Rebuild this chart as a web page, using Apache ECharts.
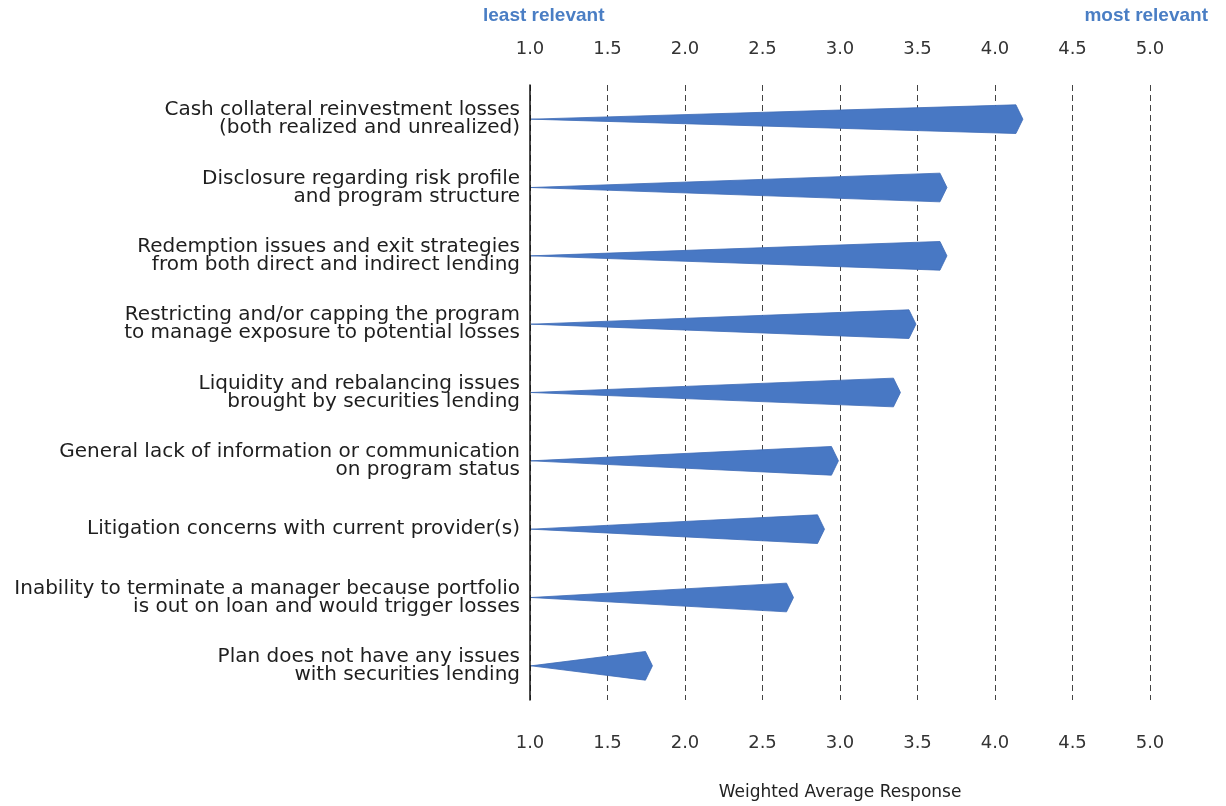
<!DOCTYPE html>
<html>
<head>
<meta charset="utf-8">
<script src="https://cdn.jsdelivr.net/npm/echarts@6/dist/echarts.min.js"></script>
<style>
  html, body { margin: 0; padding: 0; background: #fff; }
  #chart { width: 1226px; height: 806px; }
</style>
</head>
<body>
<div id="chart"></div>
<script>
const categories = [
  "Cash collateral reinvestment losses\n(both realized and unrealized)",
  "Disclosure regarding risk profile\nand program structure",
  "Redemption issues and exit strategies\nfrom both direct and indirect lending",
  "Restricting and/or capping the program\nto manage exposure to potential losses",
  "Liquidity and rebalancing issues\nbrought by securities lending",
  "General lack of information or communication\non program status",
  "Litigation concerns with current provider(s)",
  "Inability to terminate a manager because portfolio\nis out on loan and would trigger losses",
  "Plan does not have any issues\nwith securities lending"
];
const scores = [4.18, 3.69, 3.69, 3.49, 3.39, 2.99, 2.9, 2.7, 1.79];
const axisMin = 1;
const axisMax = 5;
const tickStep = 0.5;

const chart = echarts.init(document.getElementById("chart"), null, { renderer: "canvas" });

const tickLabel = {
  fontFamily: "DejaVu Sans",
  fontSize: 18,
  color: "#333",
  formatter: (v) => v.toFixed(1)
};

// wedge: sharp at the axis, widening to the value, then a short arrow cap
const renderWedge = (params, api) => {
  const val = api.value(0);
  const idx = api.value(1);
  const start = api.coord([axisMin, idx]);
  const end = api.coord([val, idx]);
  const h = api.size([0, 1])[1] * 0.42;
  const cap = 7;
  return {
    type: "polygon",
    shape: {
      points: [
        [start[0] + 1, start[1]],
        [end[0] - cap, end[1] - h / 2],
        [end[0], end[1]],
        [end[0] - cap, end[1] + h / 2]
      ]
    },
    style: { fill: "#4878c4", stroke: "#3d6bb6", lineWidth: 0.8 }
  };
};

const option = {
  backgroundColor: "#fff",
  animation: false,
  grid: { left: 530, right: 76, top: 85, bottom: 99, containLabel: false },
  graphic: [
    {
      type: "text", left: 483, top: 6,
      style: { text: "least relevant", fill: "#4a7ec4", font: "bold 19px 'Liberation Sans'" }
    },
    {
      type: "text", right: 18, top: 6,
      style: { text: "most relevant", fill: "#4a7ec4", font: "bold 19px 'Liberation Sans'" }
    }
  ],
  xAxis: [
    {
      type: "value", position: "bottom",
      min: axisMin, max: axisMax, interval: tickStep,
      axisLine: { show: false }, axisTick: { show: false },
      axisLabel: Object.assign({ margin: 34 }, tickLabel),
      splitLine: { show: true, lineStyle: { color: "#444", type: [6, 4], width: 1 } },
      name: "Weighted Average Response",
      nameLocation: "middle", nameGap: 84,
      nameTextStyle: { fontFamily: "DejaVu Sans", fontSize: 17, color: "#222" }
    },
    {
      type: "value", position: "top",
      min: axisMin, max: axisMax, interval: tickStep,
      axisLine: { show: false }, axisTick: { show: false },
      axisLabel: Object.assign({ margin: 27 }, tickLabel),
      splitLine: { show: false }
    }
  ],
  yAxis: {
    type: "category", data: categories, inverse: true,
    axisLine: { show: true, lineStyle: { color: "#111", width: 1.5 } },
    axisTick: { show: false },
    axisLabel: {
      fontFamily: "DejaVu Sans", fontSize: 20, lineHeight: 18,
      color: "#1e1e1e", margin: 10, align: "right"
    },
    splitLine: { show: false }
  },
  series: [
    {
      type: "custom",
      xAxisIndex: 0,
      renderItem: renderWedge,
      encode: { x: 0, y: 1 },
      data: scores.map((v, i) => [v, i]),
      z: 3
    }
  ]
};

chart.setOption(option);
window.addEventListener("resize", () => chart.resize());
</script>
</body>
</html>
